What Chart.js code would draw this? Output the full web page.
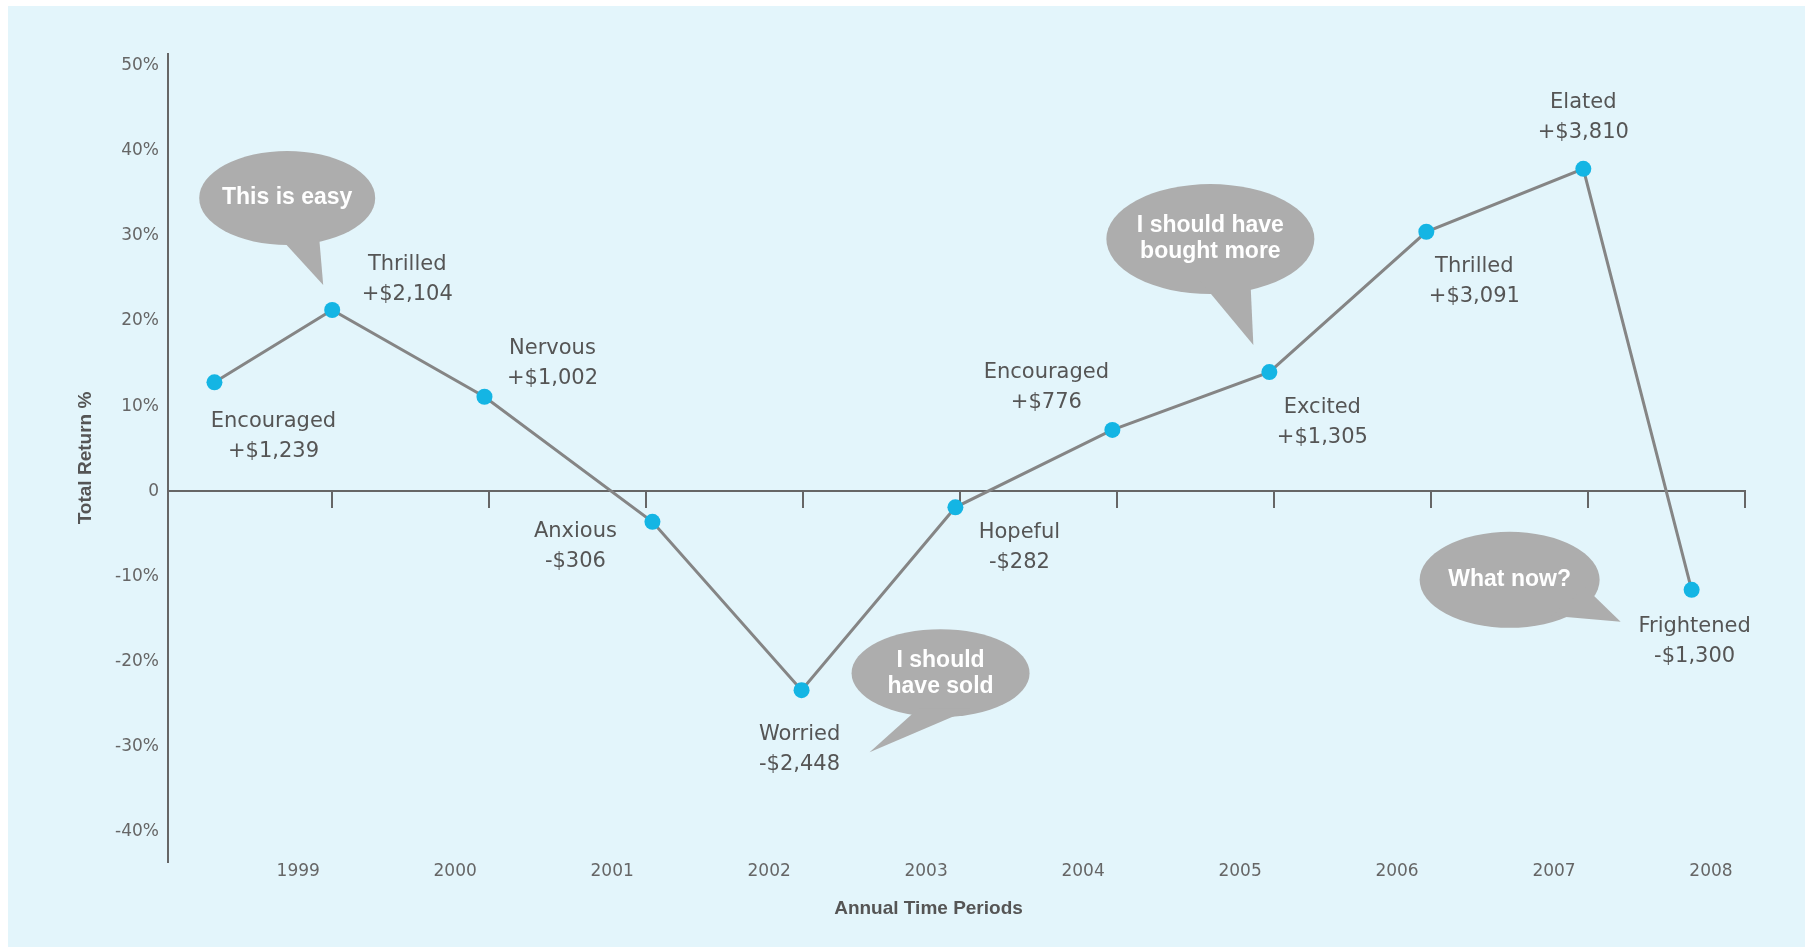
<!DOCTYPE html>
<html>
<head>
<meta charset="utf-8">
<title>Total return and investor mood, 1999-2008</title>
<script src="https://cdn.jsdelivr.net/npm/chart.js@4.4.1/dist/chart.umd.min.js"></script>
<style>
  html, body { margin: 0; padding: 0; background: #fff; }
  #wrap { position: relative; width: 1812px; height: 950px; }
  #panel { position: absolute; left: 8px; top: 6px; width: 1797px; height: 941px; background: #e3f5fb; }
  #chart { position: absolute; left: 0; top: 0; }
</style>
</head>
<body>
<div id="wrap">
  <div id="panel"></div>
  <canvas id="chart" width="1812" height="950"></canvas>
</div>
<script>
// values
const years = ['1999', '2000', '2001', '2002', '2003', '2004', '2005', '2006', '2007', '2008'];
const periods = [0.25, 1.0, 1.97, 3.04, 3.99, 4.97, 5.97, 6.97, 7.97, 8.97, 9.66];
const returns = [12.8, 21.3, 11.1, -3.6, -23.4, -1.9, 7.2, 14.0, 30.5, 37.9, -11.6];
const moods = ['Encouraged', 'Thrilled', 'Nervous', 'Anxious', 'Worried', 'Hopeful',
  'Encouraged', 'Excited', 'Thrilled', 'Elated', 'Frightened'];
const gains = ['+$1,239', '+$2,104', '+$1,002', '-$306', '-$2,448', '-$282',
  '+$776', '+$1,305', '+$3,091', '+$3,810', '-$1,300'];
const thoughts = [['This is easy'], ['I should', 'have sold'], ['I should have', 'bought more'], ['What now?']];
const thoughtAt = [1, 4, 7, 10]; // point each bubble belongs to

// placement of the annotations, in px relative to their point
const labelOffsets = [[59, 39], [75, -45], [68, -48], [-77, 10], [-2, 44], [64, 25],
  [-66, -57], [53, 35], [48, 35], [0, -66], [3, 37]];
const bubbleShapes = [
  { cx: -45, cy: -112, rx: 88, ry: 47, tail: [[-52, -72], [-13, -72], [-9, -25]] },
  { cx: 139, cy: -17, rx: 89, ry: 44, tail: [[117, 18], [171, 18], [68, 62]] },
  { cx: -59, cy: -133, rx: 104, ry: 55, tail: [[-70, -92], [-19, -92], [-16, -27]] },
  { cx: -182, cy: -10, rx: 90, ry: 48, tail: [[-106, -2], [-140, 26], [-71, 32]] }
];

const AXIS = '#666';
const TEXT = '#555';

const moodLabels = {
  id: 'moodLabels',
  afterDatasetsDraw(chart) {
    const ctx = chart.ctx;
    const pts = chart.getDatasetMeta(0).data;
    ctx.save();
    ctx.font = '21px "DejaVu Sans"';
    ctx.fillStyle = TEXT;
    ctx.textAlign = 'center';
    ctx.textBaseline = 'middle';
    pts.forEach((p, i) => {
      const [dx, dy] = labelOffsets[i];
      ctx.fillText(moods[i], p.x + dx, p.y + dy);
      ctx.fillText(gains[i], p.x + dx, p.y + dy + 30);
    });
    ctx.restore();
  }
};

const bubbles = {
  id: 'bubbles',
  beforeDatasetsDraw(chart) {
    const ctx = chart.ctx;
    const pts = chart.getDatasetMeta(0).data;
    ctx.save();
    thoughts.forEach((lines, i) => {
      const p = pts[thoughtAt[i]];
      const b = bubbleShapes[i];
      const cx = p.x + b.cx, cy = p.y + b.cy;
      ctx.fillStyle = '#adadad';
      ctx.beginPath();
      ctx.ellipse(cx, cy, b.rx, b.ry, 0, 0, Math.PI * 2);
      ctx.fill();
      ctx.beginPath();
      ctx.moveTo(p.x + b.tail[0][0], p.y + b.tail[0][1]);
      ctx.lineTo(p.x + b.tail[2][0], p.y + b.tail[2][1]);
      ctx.lineTo(p.x + b.tail[1][0], p.y + b.tail[1][1]);
      ctx.closePath();
      ctx.fill();

      ctx.fillStyle = '#fff';
      ctx.font = 'bold 23px "Liberation Sans"';
      ctx.textAlign = 'center';
      ctx.textBaseline = 'middle';
      const top = cy - (lines.length - 1) * 13;
      lines.forEach((t, j) => ctx.fillText(t, cx, top + j * 26));
    });
    ctx.restore();
  }
};

// x title sits a little left of the plot centre in the original
const xTitle = {
  id: 'xTitle',
  afterDraw(chart) {
    const { ctx, chartArea } = chart;
    ctx.save();
    ctx.font = 'bold 19px "Liberation Sans"';
    ctx.fillStyle = TEXT;
    ctx.textAlign = 'center';
    ctx.textBaseline = 'middle';
    ctx.fillText('Annual Time Periods', (chartArea.left + chartArea.right) / 2 - 28, chartArea.bottom + 47);
    ctx.restore();
  }
};

const dropZero = (axis) => { axis.ticks = axis.ticks.filter(t => t.value >= 1); };

new Chart(document.getElementById('chart'), {
  type: 'line',
  data: {
    datasets: [{
      data: periods.map((x, i) => ({ x, y: returns[i] })),
      borderColor: '#858585',
      borderWidth: 3,
      pointRadius: 8,
      pointHoverRadius: 8,
      pointBorderWidth: 0,
      pointBackgroundColor: '#14b5e4',
      tension: 0,
      clip: false
    }]
  },
  options: {
    responsive: false,
    animation: false,
    events: [],
    layout: { padding: { left: 0, top: 54, right: 67, bottom: 0 } },
    plugins: {
      legend: { display: false },
      tooltip: { enabled: false }
    },
    scales: {
      y: {
        type: 'linear',
        min: -43.6,
        max: 51.4,
        afterFit: (s) => { s.width = 168; },
        grid: { display: false, drawTicks: false },
        border: { display: true, color: AXIS, width: 2 },
        ticks: {
          stepSize: 10,
          includeBounds: false,
          padding: 9,
          color: AXIS,
          font: { family: 'DejaVu Sans', size: 17 },
          callback: (v) => (v === 0 ? '0' : v + '%')
        },
        title: {
          display: true,
          text: 'Total Return %',
          color: TEXT,
          font: { family: 'Liberation Sans', size: 19, weight: 'bold' },
          padding: { top: 74, bottom: 0 }
        }
      },
      x: {
        type: 'linear',
        position: 'bottom',
        min: -0.046,
        max: 10,
        afterFit: (s) => { s.height = 88; },
        afterBuildTicks: dropZero,
        grid: { display: false, drawTicks: false },
        border: { display: false },
        ticks: {
          stepSize: 1,
          includeBounds: false,
          labelOffset: -34,
          padding: 1,
          maxRotation: 0,
          autoSkip: false,
          color: AXIS,
          font: { family: 'DejaVu Sans', size: 17, lineHeight: 1 },
          callback: (v) => years[v - 1]
        }
      },
      zero: {
        type: 'linear',
        axis: 'x',
        position: { y: 0 },
        min: -0.046,
        max: 10,
        afterBuildTicks: dropZero,
        grid: { display: true, drawOnChartArea: false, drawTicks: true, tickLength: 16, color: AXIS, lineWidth: 2 },
        border: { display: true, color: AXIS, width: 2 },
        ticks: { stepSize: 1, includeBounds: false, display: false }
      }
    }
  },
  plugins: [bubbles, moodLabels, xTitle]
});
</script>
</body>
</html>
